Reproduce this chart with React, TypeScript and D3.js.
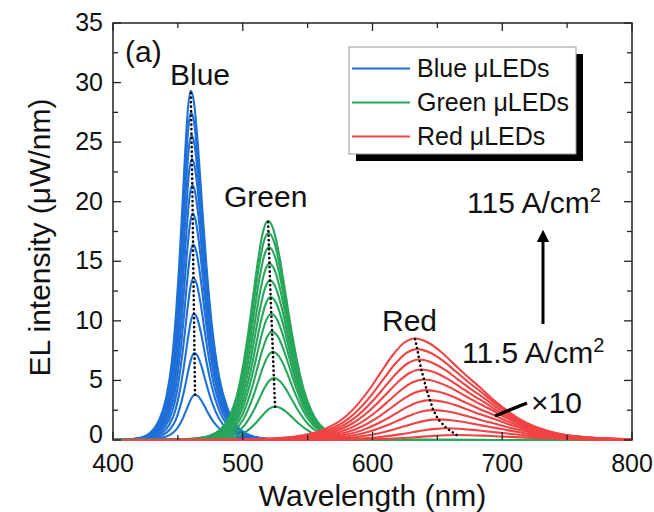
import React from "react";
import * as d3 from "d3";

// Peak intensities (µW/nm), lowest to highest current density (red is ×10)
const bluePeaks = [3.8, 7.3, 10.6, 13.6, 16.4, 19.0, 21.4, 23.6, 25.6, 27.5, 29.3];
const bluePeakWl = [463.2, 462.8, 462.4, 462.0, 461.7, 461.4, 461.1, 460.8, 460.5, 460.2, 460.0];
const greenPeaks = [2.8, 5.2, 7.4, 9.1, 10.6, 12.0, 13.4, 14.8, 16.2, 17.4, 18.4];
const greenPeakWl = [524.9, 524.0, 523.2, 522.6, 522.0, 521.5, 521.0, 520.6, 520.2, 519.8, 519.5];
const redPeaks = [0.42, 0.98, 1.73, 2.51, 3.35, 4.19, 5.08, 5.92, 6.76, 7.63, 8.52];
const redPeakWl = [664.8, 657.1, 650.7, 646.8, 644.3, 641.7, 639.7, 637.6, 636.0, 634.5, 632.7];

// Normalised line shapes (offset from peak in nm, relative intensity)
const blueOffsets = [-400, -68, -51, -39, -31.5, -25, -19, -14.5, -11.25, -9, -6.75, -4.5, -2.25, 0, 2.2, 5.5, 8.7, 12, 16.4, 21.8, 28.4, 35, 43.6, 54.5, 71, 93, 400];
const blueProfile = [0, 0.0002, 0.0012, 0.0063, 0.02, 0.053, 0.121, 0.229, 0.372, 0.5, 0.654, 0.816, 0.948, 1, 0.972, 0.843, 0.669, 0.5, 0.323, 0.181, 0.089, 0.043, 0.0166, 0.005, 0.0008, 0.0001, 0];
const greenOffsets = [-400, -86, -67.5, -52.5, -45, -37.5, -30, -22.5, -15, -11.25, -7.5, -3.75, 0, 4.5, 9, 13.5, 18, 27, 36, 45, 54, 63, 80.5, 106, 400];
const greenProfile = [0, 0.0005, 0.0027, 0.01, 0.02, 0.044, 0.103, 0.241, 0.5, 0.666, 0.83, 0.953, 1, 0.953, 0.83, 0.666, 0.5, 0.241, 0.103, 0.044, 0.02, 0.01, 0.0027, 0.0004, 0];
const redOffsets = [-400, -160, -122.5, -105, -87.5, -70, -52.5, -35, -26.25, -17.5, -8.75, 0, 10, 20, 30, 40, 50, 60, 67, 80, 95, 110, 130, 160, 200, 400];
const redProfile = [0, 0.001, 0.01, 0.02, 0.044, 0.103, 0.241, 0.5, 0.666, 0.83, 0.953, 1, 0.96, 0.87, 0.75, 0.63, 0.52, 0.4, 0.33, 0.21, 0.12, 0.065, 0.03, 0.01, 0.003, 0];

const xTicks = [400, 500, 600, 700, 800];
const xMinorTicks = [450, 550, 650, 750];
const yTicks = [0, 5, 10, 15, 20, 25, 30, 35];
const yMinorTicks = [2.5, 7.5, 12.5, 17.5, 22.5, 27.5, 32.5];

const legendItems = ["Blue μLEDs", "Green μLEDs", "Red μLEDs"];

const BLUE = "#1f6fd9";
const GREEN = "#27a65b";
const RED = "#f04343";
const FONT = "'Liberation Sans', Arial, sans-serif";

export default function App() {
  const x = d3.scaleLinear().domain([400, 800]).range([113, 632]);
  const y = d3.scaleLinear().domain([0, 35]).range([440, 23]);
  const line = d3
    .line<[number, number]>()
    .x((d) => x(d[0]))
    .y((d) => y(d[1]))
    .curve(d3.curveMonotoneX);
  const straight = d3
    .line<[number, number]>()
    .x((d) => x(d[0]))
    .y((d) => y(d[1]));

  const makeCurves = (peaks: number[], wls: number[], offs: number[], prof: number[]) =>
    peaks.map((p, i) => offs.map((o, j) => [wls[i] + o, p * prof[j]] as [number, number]));

  const groups = [
    { color: BLUE, curves: makeCurves(bluePeaks, bluePeakWl, blueOffsets, blueProfile), peaks: bluePeaks, wls: bluePeakWl },
    { color: GREEN, curves: makeCurves(greenPeaks, greenPeakWl, greenOffsets, greenProfile), peaks: greenPeaks, wls: greenPeakWl },
    { color: RED, curves: makeCurves(redPeaks, redPeakWl, redOffsets, redProfile), peaks: redPeaks, wls: redPeakWl },
  ];
  const legendColors = [BLUE, GREEN, RED];

  const [x0, x1] = x.range();
  const [yb, yt] = y.range();

  return (
    <svg width={654} height={512} style={{ position: "absolute", left: 0, top: 0, background: "#fff" }} fontFamily={FONT}>
      <defs>
        <clipPath id="plot">
          <rect x={x0} y={yt - 5} width={x1 - x0} height={yb - yt + 7} />
        </clipPath>
        <marker id="arr" viewBox="0 0 10 10" refX="5" refY="5" markerWidth="4.2" markerHeight="4.2" orient="auto">
          <path d="M0,0 L10,5 L0,10 z" fill="#000" />
        </marker>
      </defs>
      <rect x={x0} y={yt} width={x1 - x0} height={yb - yt} fill="none" stroke="#222" strokeWidth={1.5} />
      <g clipPath="url(#plot)">
        {groups.map((g, gi) => (
          <g key={gi}>
            {g.curves.map((c, ci) => (
              <path key={ci} d={line(c) || ""} fill="none" stroke={g.color} strokeWidth={2.1} />
            ))}
          </g>
        ))}
      </g>
      {/* ticks */}
      <g stroke="#222" strokeWidth={1.3}>
        {xTicks.map((t) => (
          <g key={"xt" + t}>
            <line x1={x(t)} x2={x(t)} y1={yb} y2={yb - 8} />
            <line x1={x(t)} x2={x(t)} y1={yt} y2={yt + 8} />
          </g>
        ))}
        {xMinorTicks.map((t) => (
          <g key={"xm" + t}>
            <line x1={x(t)} x2={x(t)} y1={yb} y2={yb - 5} />
            <line x1={x(t)} x2={x(t)} y1={yt} y2={yt + 5} />
          </g>
        ))}
        {yTicks.map((t) => (
          <g key={"yt" + t}>
            <line x1={x0} x2={x0 + 8} y1={y(t)} y2={y(t)} />
            <line x1={x1} x2={x1 - 8} y1={y(t)} y2={y(t)} />
          </g>
        ))}
        {yMinorTicks.map((t) => (
          <g key={"ym" + t}>
            <line x1={x0} x2={x0 + 5} y1={y(t)} y2={y(t)} />
            <line x1={x1} x2={x1 - 5} y1={y(t)} y2={y(t)} />
          </g>
        ))}
      </g>
      {/* dotted peak traces */}
      {groups.map((g, gi) => (
        <path
          key={"dot" + gi}
          d={straight(g.peaks.map((p, i) => [g.wls[i], p] as [number, number])) || ""}
          fill="none"
          stroke="#000"
          strokeWidth={2.6}
          strokeLinecap="round"
          strokeDasharray="0.1 4.4"
        />
      ))}
      {/* tick labels */}
      <g fontSize={25} fill="#111">
        {xTicks.map((t) => (
          <text key={"xl" + t} x={x(t)} y={472} textAnchor="middle">
            {t}
          </text>
        ))}
        {yTicks.map((t) => (
          <text key={"yl" + t} x={103} y={t === 0 ? y(t) + 3 : y(t) + 8} textAnchor="end">
            {t}
          </text>
        ))}
      </g>
      <text x={(x0 + x1) / 2} y={506} textAnchor="middle" fontSize={30} fill="#111">
        Wavelength (nm)
      </text>
      <text transform={`translate(50,${(yb + yt) / 2 + 6}) rotate(-90)`} textAnchor="middle" fontSize={30} fill="#111">
        EL intensity (μW/nm)
      </text>
      {/* annotations */}
      <g fontSize={30} fill="#111">
        <text x={125} y={62}>(a)</text>
        <text x={170} y={85}>Blue</text>
        <text x={224} y={207}>Green</text>
        <text x={382} y={331}>Red</text>
        <text x={467} y={213}>
          115 A/cm<tspan fontSize={20} dy={-11}>2</tspan>
        </text>
        <text x={462} y={363}>
          11.5 A/cm<tspan fontSize={20} dy={-11}>2</tspan>
        </text>
        <text x={531} y={413}>×10</text>
      </g>
      <line x1={543} x2={543} y1={324} y2={236} stroke="#000" strokeWidth={3} markerEnd="url(#arr)" />
      <line x1={495} x2={527} y1={416} y2={403} stroke="#000" strokeWidth={3.5} />
      {/* legend */}
      <rect x={356} y={54} width={227} height={107} fill="#000" />
      <rect x={349} y={47} width={227} height={107} fill="#fff" stroke="#999" strokeWidth={1} />
      {legendItems.map((s, i) => (
        <g key={s}>
          <line x1={352} x2={410} y1={68.5 + i * 34} y2={68.5 + i * 34} stroke={legendColors[i]} strokeWidth={2} />
          <text x={417} y={77 + i * 34} fontSize={25} fill="#111">
            {s}
          </text>
        </g>
      ))}
    </svg>
  );
}
